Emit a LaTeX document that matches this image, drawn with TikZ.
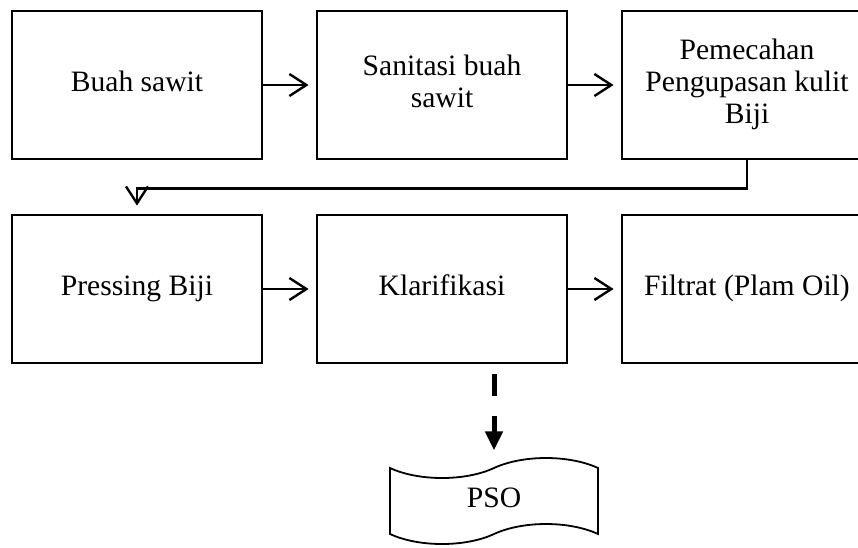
\documentclass[tikz,border=0pt]{standalone}
\usepackage{fontspec}
\setmainfont{Liberation Serif}
\usetikzlibrary{arrows.meta,shapes.symbols}
\newcommand\mystrut{\rule[-7.5pt]{0pt}{24.5pt}}
\begin{document}
\begin{tikzpicture}[x=1pt,y=-1pt,
 box/.style={draw, line width=2.8pt, minimum width=250pt, minimum height=148pt, align=center, inner sep=0pt, font=\fontsize{29.6}{32}\selectfont},
 arr/.style={line width=2.4pt, -{Straight Barb[length=17pt,width=22pt,line width=2.4pt]}},
 tapebox/.style={tape, draw, line width=1.8pt, minimum width=208pt, minimum height=86pt, tape bend top=in and out, tape bend bottom=in and out, tape bend height=20pt, inner sep=0pt, font=\fontsize{29.6}{32}\selectfont},
]
\useasboundingbox (0,0) rectangle (858,547);
\node[box] (b1) at (137,85) {\mystrut Buah sawit};
\node[box] (b2) at (442,85) {\mystrut Sanitasi buah\\\mystrut sawit};
\node[box] (b3) at (747,85) {\mystrut Pemecahan\\\mystrut Pengupasan kulit\\\mystrut Biji};
\node[box] (b4) at (137,289) {\mystrut Pressing Biji};
\node[box] (b5) at (442,289) {\mystrut Klarifikasi};
\node[box] (b6) at (747,289) {\mystrut Filtrat (Plam Oil)};
\node[tapebox] (pso) at (494,501) {\mystrut PSO};
\draw[arr, shorten >=7pt] (b1.east) -- (b2.west);
\draw[arr, shorten >=7pt] (b2.east) -- (b3.west);
\draw[arr, shorten >=7pt] (b4.east) -- (b5.west);
\draw[arr, shorten >=7pt] (b5.east) -- (b6.west);
\draw[arr, shorten >=8pt] (b3.south) -- ++(0,28) -| (b4.north);
\draw[line width=5pt, dash pattern=on 22pt off 20pt, shorten <=10pt, -{Triangle[length=19pt,width=17pt]}] (pso.north |- b5.south) -- ++(0,86);
\end{tikzpicture}
\end{document}
